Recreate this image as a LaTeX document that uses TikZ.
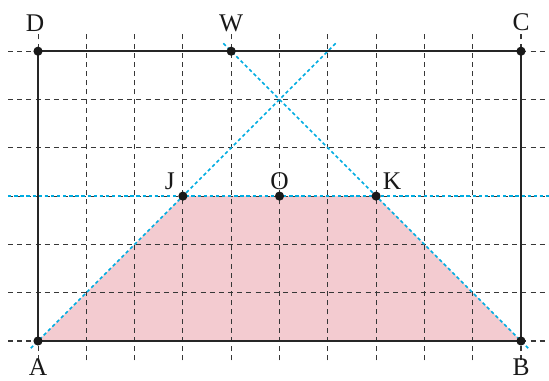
\documentclass[tikz,border=0pt]{standalone}
\usepackage{fontspec}
\setmainfont{Liberation Serif}
\definecolor{pinkfill}{RGB}{243,203,208}
\definecolor{cyanline}{RGB}{0,172,225}
\definecolor{gridgray}{RGB}{55,55,55}
\begin{document}
\begin{tikzpicture}[
  gridline/.style={draw=gridgray, line width=0.6pt, dash pattern=on 3pt off 2.4pt},
  cyanl/.style={draw=cyanline, line width=0.9pt, dash pattern=on 2pt off 1.6pt},
  frame/.style={draw=black!85, line width=1.35pt},
  pt/.style={circle, fill=black!90, inner sep=0pt, minimum size=5.4pt},
  lab/.style={font=\fontsize{15}{18}\selectfont, text=black!90, inner sep=0pt}
]
\useasboundingbox (-0.787,-0.828) rectangle (10.58,7.06);
% points
\coordinate (pA) at (0,0);
\coordinate (pB) at (10,0);
\coordinate (pC) at (10,6);
\coordinate (pD) at (0,6);
\coordinate (pW) at (4,6);
\coordinate (pJ) at (3,3);
\coordinate (pO) at (5,3);
\coordinate (pK) at (7,3);
% fill
\fill[pinkfill] (pA) -- (pB) -- (pK) -- (pJ) -- cycle;
% grid
\foreach \x in {0,...,10} \draw[gridline] (\x,-0.4) -- (\x,6.4);
\foreach \y in {0,...,6} \draw[gridline] (-0.62,\y) -- (10.58,\y);
% cyan lines
\coordinate (a1) at (-0.15,-0.15);
\coordinate (a2) at (6.17,6.17);
\coordinate (b1) at (10.15,-0.15);
\coordinate (b2) at (3.83,6.17);
\coordinate (h1) at (-0.62,3);
\coordinate (h2) at (10.58,3);
\draw[cyanl] (a1) -- (a2);
\draw[cyanl] (b1) -- (b2);
\draw[cyanl] (h1) -- (h2);
% frame
\draw[frame] (pA) -- (pB) -- (pC) -- (pD) -- cycle;
% dots
\foreach \p in {pA,pB,pC,pD,pW,pJ,pO,pK} \node[pt] (n\p) at (\p) {};
% labels
\node[lab] (lD) at (-0.06,6.58) {D};
\node[lab] (lW) at (4,6.58) {W};
\node[lab] (lC) at (10,6.6) {C};
\node[lab] (lA) at (0,-0.54) {A};
\node[lab] (lB) at (10,-0.54) {B};
\node[lab] (lJ) at (2.73,3.3) {J};
\node[lab] (lO) at (5,3.3) {O};
\node[lab] (lK) at (7.33,3.3) {K};
\end{tikzpicture}
\end{document}
